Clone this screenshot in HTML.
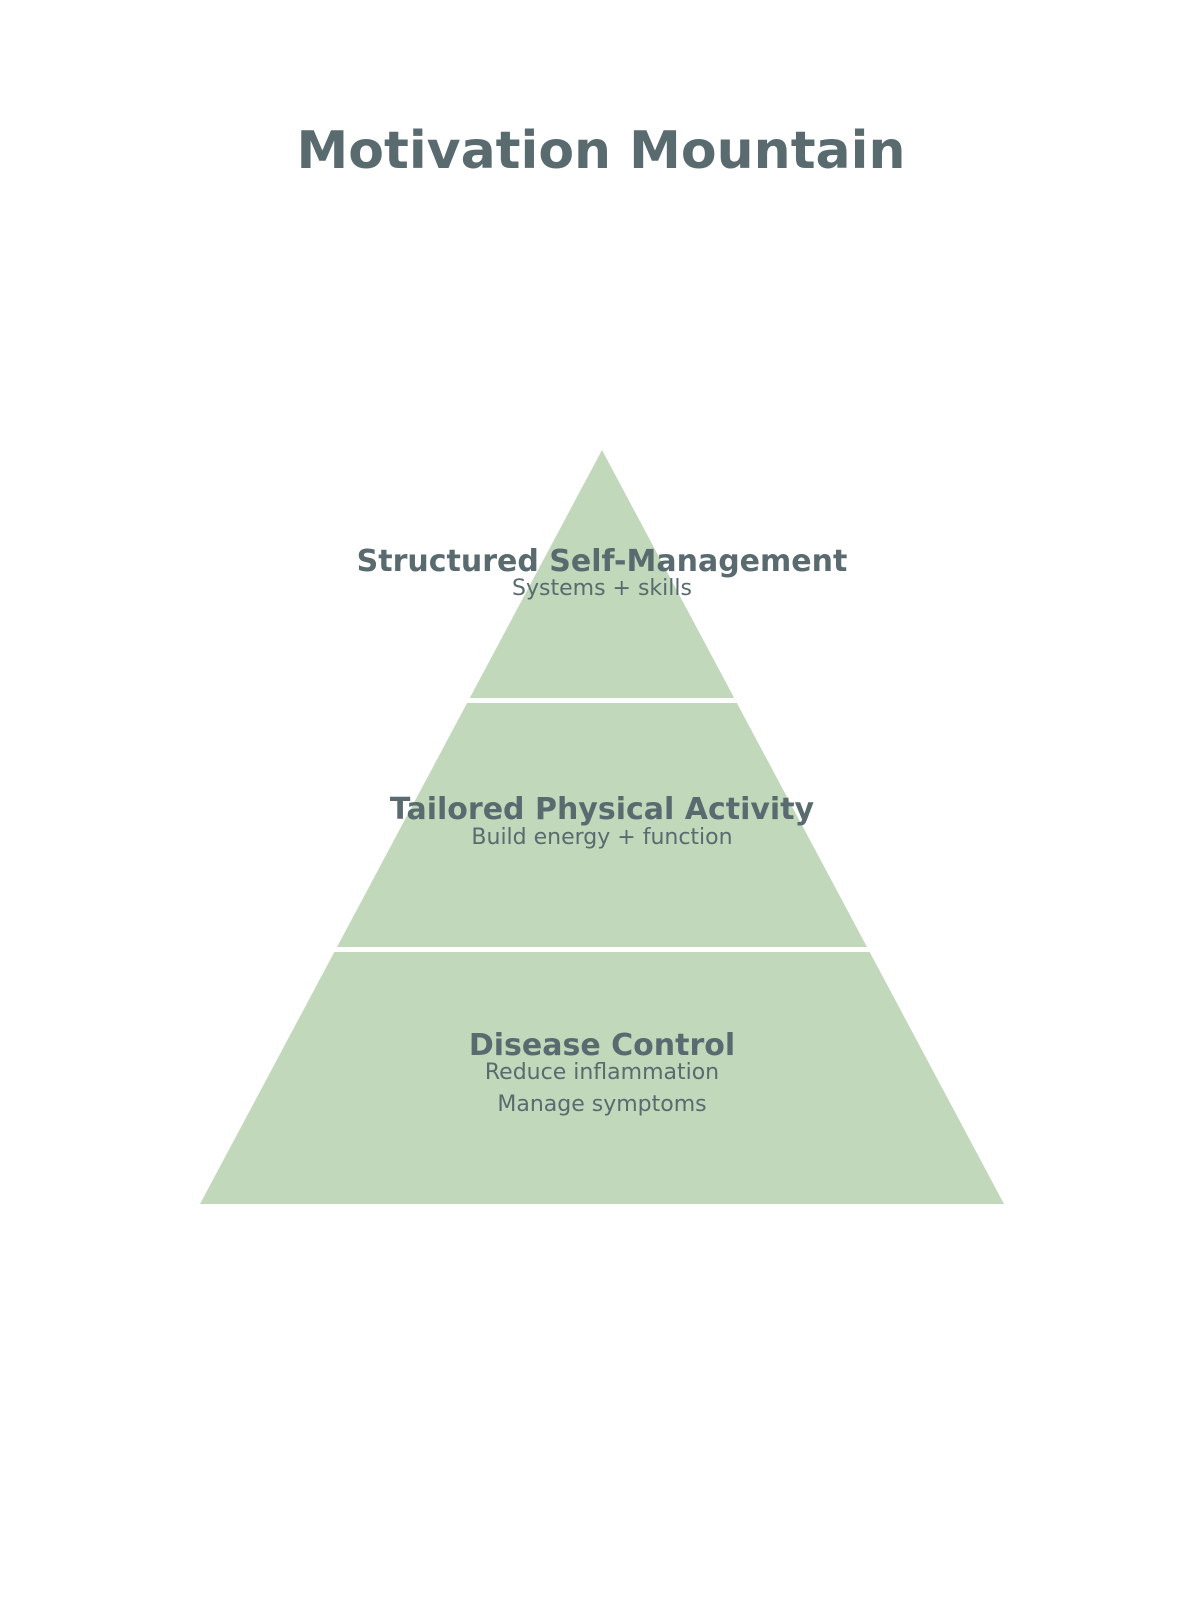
<!DOCTYPE html>
<html><head><meta charset="utf-8"><style>html,body{margin:0;padding:0;background:#fff}</style></head>
<body>
<svg width="1200" height="1600" viewBox="0 0 1200 1600" xmlns="http://www.w3.org/2000/svg" font-family="DejaVu Sans, Liberation Sans, sans-serif" text-anchor="middle">
<rect width="1200" height="1600" fill="#fff"/>
<polygon points="602,450 1004,1204 200,1204" fill="#c1d8bb"/>
<rect x="300" y="698" width="600" height="5" fill="#fff"/>
<rect x="300" y="947" width="600" height="5" fill="#fff"/>
<text x="601" y="168" font-size="52" font-weight="bold" fill="#5a6b70">Motivation Mountain</text>
<g fill="#5a6b70">
<text x="602" y="571" font-size="30" font-weight="bold">Structured Self-Management</text>
<text x="602" y="595" font-size="22">Systems + skills</text>
<text x="602" y="819" font-size="30" font-weight="bold">Tailored Physical Activity</text>
<text x="602" y="844" font-size="22">Build energy + function</text>
<text x="602" y="1055" font-size="30" font-weight="bold">Disease Control</text>
<text x="602" y="1079" font-size="22">Reduce inflammation</text>
<text x="602" y="1111" font-size="22">Manage symptoms</text>
</g>
</svg>
</body></html>
